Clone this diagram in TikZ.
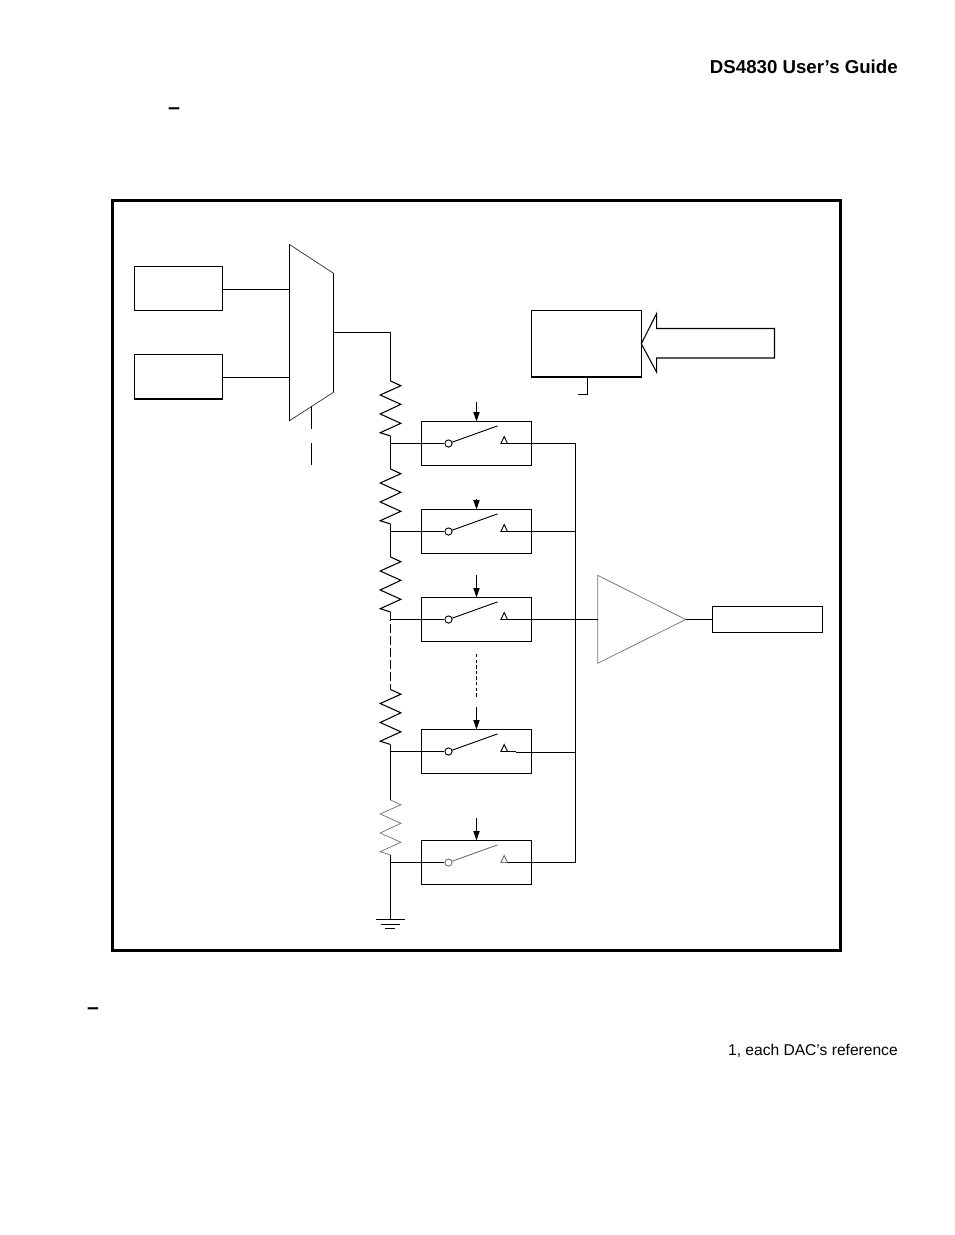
\documentclass[tikz,border=0pt]{standalone}
\usepackage{fontspec}
\setmainfont{Liberation Sans}
\usetikzlibrary{arrows.meta}
\tikzset{
  frameline/.style={line width=2.1pt},
  wire/.style={line width=.8pt},
  thinwire/.style={line width=.55pt,draw=black!55},
  blockbox/.style={draw,line width=.8pt,inner sep=0pt,outer sep=0pt},
  sigarrow/.style={wire,-{Triangle[length=7pt,width=4.6pt]}},
  switchink/.style={draw=black},
  pivot/.style={circle,switchink,line width=.7pt,inner sep=0pt,minimum size=5.4pt},
  resistor/.pic={
    \coordinate (-top) at (0,0);
    \coordinate (-end) at (0,55);
    \draw[pic actions] (-top) -- (10.4,4.7) -- (-10.3,14) -- (10.4,23.3) -- (-10.3,33) -- (10.4,42.3) -- (-10.3,51.7) -- (-end);
  },
  dacswitch/.pic={
    \node[blockbox,minimum width=82.5pt,minimum height=33pt] (-box) at (0,0) {};
    \node[pivot] (-in) at (-28,0) {};
    \coordinate (-out) at (31,0);
    \draw[switchink,line width=.7pt] (-in) -- (21,-17.6);
    \draw[switchink,line width=.7pt] (24.4,0) -- (27.7,-7) -- (-out) -- cycle;
  }
}
\begin{document}
\begin{tikzpicture}[x=.75pt,y=-.75pt]
\useasboundingbox (0,0) rectangle (954,1235);
\node[anchor=base east,font=\fontsize{14}{16}\selectfont\bfseries,inner sep=0pt] (guide) at (898,73) {DS4830 User’s Guide};
\node[anchor=base,font=\fontsize{16}{18}\selectfont\bfseries,inner sep=0pt] (dashtop) at (174,114.3) {–};
\node[anchor=base,font=\fontsize{16}{18}\selectfont\bfseries,inner sep=0pt] (dashlow) at (93,1014.3) {–};
\node[anchor=base east,font=\fontsize{11.7}{14}\selectfont,inner sep=0pt] (refnote) at (898,1055) {1, each DAC’s reference};
\node[draw,frameline,inner sep=0pt,outer sep=0pt,minimum width=546.15pt,minimum height=562.35pt] (frame) at (476.4,575.4) {};
\node[blockbox,minimum width=66pt,minimum height=33pt] (vrefa) at (178.5,288.5) {};
\node[blockbox,minimum width=66pt,minimum height=33.375pt] (vrefb) at (178.5,376.75) {};
\draw[thinwire,draw=black!80] (289.5,244.5) coordinate (muxtl) -- (333.5,273.3) coordinate (muxtr) -- (333.5,392.3) coordinate (muxbr) -- (289.5,420.7) coordinate (muxbl) -- cycle;
\coordinate (muxina) at (289.5,289.5);
\coordinate (muxinb) at (289.5,377.5);
\coordinate (muxout) at (333.5,332.5);
\coordinate (muxsel) at (311.5,406);
\draw[wire] (muxtl) -- (muxbl);
\draw[wire] (muxtr) -- (muxbr);
\draw[wire] (vrefa.east |- muxina) -- (muxina);
\draw[wire] (vrefb.east |- muxinb) -- (muxinb);
\draw[wire] (muxsel) -- (311.5,428.7);
\draw[wire] (311.5,443.3) -- (311.5,465.3);
\pic[wire] (ra) at (390.5,381) {resistor};
\pic[wire] (rb) at (390.5,469) {resistor};
\pic[wire] (rc) at (390.5,557) {resistor};
\pic[wire] (rd) at (390.5,689.5) {resistor};
\pic[thinwire] (re) at (390.5,800) {resistor};
\pic (sa) at (476.5,443.5) {dacswitch};
\pic (sb) at (476.5,531.5) {dacswitch};
\pic (sc) at (476.5,619.5) {dacswitch};
\pic (sd) at (476.5,751.5) {dacswitch};
\pic[switchink/.style={draw=black!55}] (se) at (476.5,862.5) {dacswitch};
\draw[wire] (muxout) -| (ra-top);
\draw[wire] (ra-end) -- (rb-top);
\draw[wire] (rb-end) -- (rc-top);
\draw[wire,dash pattern=on 7pt off 2pt] (rc-end) -- (rd-top);
\draw[wire] (rd-end) -- (390.5,800) coordinate (rdrop);
\draw[wire] (ra-end) |- (sa-in);
\draw[wire] (rb-end) |- (sb-in);
\draw[wire] (rc-end) |- (sc-in);
\draw[wire] (rd-end) |- (sd-in);
\draw[wire] (re-end) |- (se-in);
\coordinate (busa) at (575.5,443.5);
\coordinate (busb) at (575.5,531.5);
\coordinate (busc) at (575.5,619.5);
\coordinate (busd) at (575.5,752.5);
\coordinate (buse) at (575.5,862.5);
\draw[wire] (sa-out) -- (busa);
\draw[wire] (sb-out) -- (busb);
\draw[wire] (sd-out) -- (515.7,751.5);
\draw[wire] (515.7,752.5) -- (busd);
\draw[wire] (se-out) -- (buse);
\draw[wire] (busa) -- (buse);
\draw[sigarrow] (476.5,401.7) -- (sa-box.north);
\draw[sigarrow] (476.5,499.3) -- (sb-box.north);
\draw[sigarrow] (476.5,575) -- (sc-box.north);
\draw[sigarrow] (476.5,707.3) -- (sd-box.north);
\draw[sigarrow] (476.5,818) -- (se-box.north);
\draw[wire,dash pattern=on 2.6pt off 1.6pt] (476.5,654) -- (476.5,698);
\draw[thinwire] (597.7,575.3) coordinate (bufa) -- (685.7,619.5) coordinate (bufout) -- (597.7,663.3) coordinate (bufb) -- cycle;
\coordinate (bufin) at (597.7,619.5);
\node[blockbox,minimum width=82.5pt,minimum height=19.5pt] (vout) at (767.5,619.5) {};
\draw[wire] (sc-out) -- (bufin);
\draw[wire] (bufout) -- (vout);
\node[blockbox,minimum width=82.2pt,minimum height=49.875pt] (dacreg) at (586.5,343.75) {};
\draw[wire] (dacreg.south -| 587.5,0) -- (587.5,394.5) -- (578.3,394.5);
\draw[wire] (dacreg.east) -- (656.7,313.3) -- (656.7,328.5) -- (774.5,328.5) -- (774.5,358) -- (656.7,358) -- (656.7,372.3) -- cycle;
\coordinate (gnd) at (390.5,919);
\draw[wire] (re-end) -- (gnd);
\draw[wire] (376,919.5) -- (404.7,919.5);
\draw[wire] (380.7,924.5) -- (400,924.5);
\draw[wire] (385.3,928.5) -- (395.3,928.5);
\end{tikzpicture}
\end{document}
